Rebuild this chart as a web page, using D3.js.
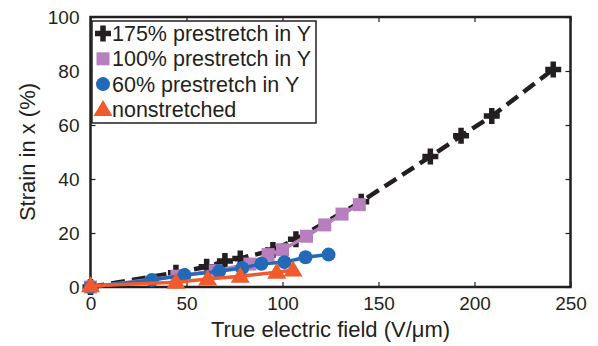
<!DOCTYPE html>
<html>
<head>
<meta charset="utf-8">
<script src="https://cdn.jsdelivr.net/npm/d3@7"></script>
<style>
  body { margin: 0; background: #fff; }
  svg text { font-family: "Liberation Sans", Arial, sans-serif; fill: #231f20; }
</style>
</head>
<body>
<div id="chart"></div>
<script>
// data (field in V/um, strain in %)
const seriesNames = ['175% prestretch in Y', '100% prestretch in Y', '60% prestretch in Y', 'nonstretched'];

const field175 = [0, 44.5, 60.5, 70, 78, 95, 107, 141, 177, 193, 209, 241];
const strain175 = [0, 5.3, 7.5, 9.6, 10.6, 13.7, 17.7, 31.6, 48.3, 56, 63.3, 80.6];

const field100 = [0, 45, 65, 83, 92.5, 100, 112.5, 122, 131, 140];
const strain100 = [0, 4, 6, 8.5, 12, 13.8, 18.8, 23, 27, 30.5];

const field60 = [0, 32, 49, 67, 79, 89, 101, 112, 124];
const strain60 = [0, 2.6, 4.4, 5.8, 7, 8.6, 9.2, 11, 12];

const field0 = [0, 44.5, 61, 78, 97, 105.5];
const strain0 = [0.5, 1.8, 3, 4, 5.5, 6.3];

const xTicks = [0, 50, 100, 150, 200, 250];
const yTicks = [0, 20, 40, 60, 80, 100];

const width = 598, height = 346;
const svg = d3.select('#chart').append('svg')
    .attr('width', width)
    .attr('height', height);

const x = d3.scaleLinear().domain([0, 250]).range([90.5, 570.5]);
const y = d3.scaleLinear().domain([0, 100]).range([287, 17]);

const ink = '#231f20';

// axes, MATLAB style: ticks inside, box all round
const tickLen = 5;
svg.append('g')
    .attr('transform', `translate(0,${y(0)})`)
    .call(d3.axisBottom(x).tickValues(xTicks).tickSizeInner(-tickLen).tickSizeOuter(0).tickPadding(10))
    .call(g => g.select('.domain').remove())
    .call(g => g.selectAll('text').attr('font-size', 19));

svg.append('g')
    .attr('transform', `translate(${x(0)},0)`)
    .call(d3.axisLeft(y).tickValues(yTicks).tickSizeInner(-tickLen).tickSizeOuter(0).tickPadding(11))
    .call(g => g.select('.domain').remove())
    .call(g => g.selectAll('text').attr('font-size', 19));

svg.append('g')
    .attr('transform', `translate(0,${y(100)})`)
    .call(d3.axisTop(x).tickValues(xTicks).tickSizeInner(-tickLen).tickSizeOuter(0).tickFormat(''))
    .call(g => g.select('.domain').remove());

svg.append('g')
    .attr('transform', `translate(${x(250)},0)`)
    .call(d3.axisRight(y).tickValues(yTicks).tickSizeInner(-tickLen).tickSizeOuter(0).tickFormat(''))
    .call(g => g.select('.domain').remove());

svg.selectAll('.tick line').attr('stroke', ink).attr('stroke-width', 1.2);

svg.append('rect')
    .attr('x', x(0)).attr('y', y(100))
    .attr('width', x(250) - x(0)).attr('height', y(0) - y(100))
    .attr('fill', 'none').attr('stroke', ink).attr('stroke-width', 2.5);

// axis titles
svg.append('text')
    .attr('x', (x(0) + x(250)) / 2).attr('y', 337)
    .attr('text-anchor', 'middle').attr('font-size', 22)
    .text('True electric field (V/\u03bcm)');

svg.append('text')
    .attr('transform', `translate(35,${(y(0) + y(100)) / 2}) rotate(-90)`)
    .attr('text-anchor', 'middle').attr('font-size', 22)
    .text('Strain in x (%)');

// markers
const plusPath = 'M-8,0H8M0,-8V8';
const triPath = 'M0,-9.5L9.5,6.5H-9.5Z';

const series = [
    { xs: field175, ys: strain175, color: ink, dash: '14,7', lw: 4.5, marker: 'plus' },
    { xs: field100, ys: strain100, color: '#b77fbd', dash: null, lw: 3.5, marker: 'square' },
    { xs: field60, ys: strain60, color: '#2369b8', dash: null, lw: 3.5, marker: 'circle' },
    { xs: field0, ys: strain0, color: '#f15a2b', dash: null, lw: 3.5, marker: 'triangle' }
];

const line = d3.line().x(d => x(d[0])).y(d => y(d[1]));

function drawMarker(g, kind, color) {
    if (kind === 'plus') {
        g.append('path').attr('d', plusPath).attr('stroke', color).attr('stroke-width', 5.5).attr('fill', 'none');
    } else if (kind === 'square') {
        g.append('rect').attr('x', -6.5).attr('y', -6.5).attr('width', 13).attr('height', 13).attr('fill', color);
    } else if (kind === 'circle') {
        g.append('circle').attr('r', 7).attr('fill', color);
    } else {
        g.append('path').attr('d', triPath).attr('fill', color);
    }
}

series.forEach(s => {
    const pts = s.xs.map((v, i) => [v, s.ys[i]]);
    svg.append('path')
        .datum(pts)
        .attr('d', line)
        .attr('fill', 'none')
        .attr('stroke', s.color)
        .attr('stroke-width', s.lw)
        .attr('stroke-dasharray', s.dash);
    svg.append('g').selectAll('g')
        .data(pts)
        .enter()
        .append('g')
        .attr('transform', d => `translate(${x(d[0])},${y(d[1])})`)
        .each(function () { drawMarker(d3.select(this), s.marker, s.color); });
});

// legend
const legend = svg.append('g').attr('transform', 'translate(92,21)');
legend.append('rect')
    .attr('width', 224).attr('height', 102)
    .attr('fill', '#fff').attr('stroke', ink).attr('stroke-width', 1.5);

seriesNames.forEach((name, i) => {
    const row = legend.append('g').attr('transform', `translate(0,${12.5 + i * 25.3})`);
    const m = row.append('g').attr('transform', 'translate(11,0)');
    drawMarker(m, series[i].marker, series[i].color);
    row.append('text')
        .attr('x', 20).attr('y', 7.5)
        .attr('font-size', 21.5)
        .text(name);
});
</script>
</body>
</html>
